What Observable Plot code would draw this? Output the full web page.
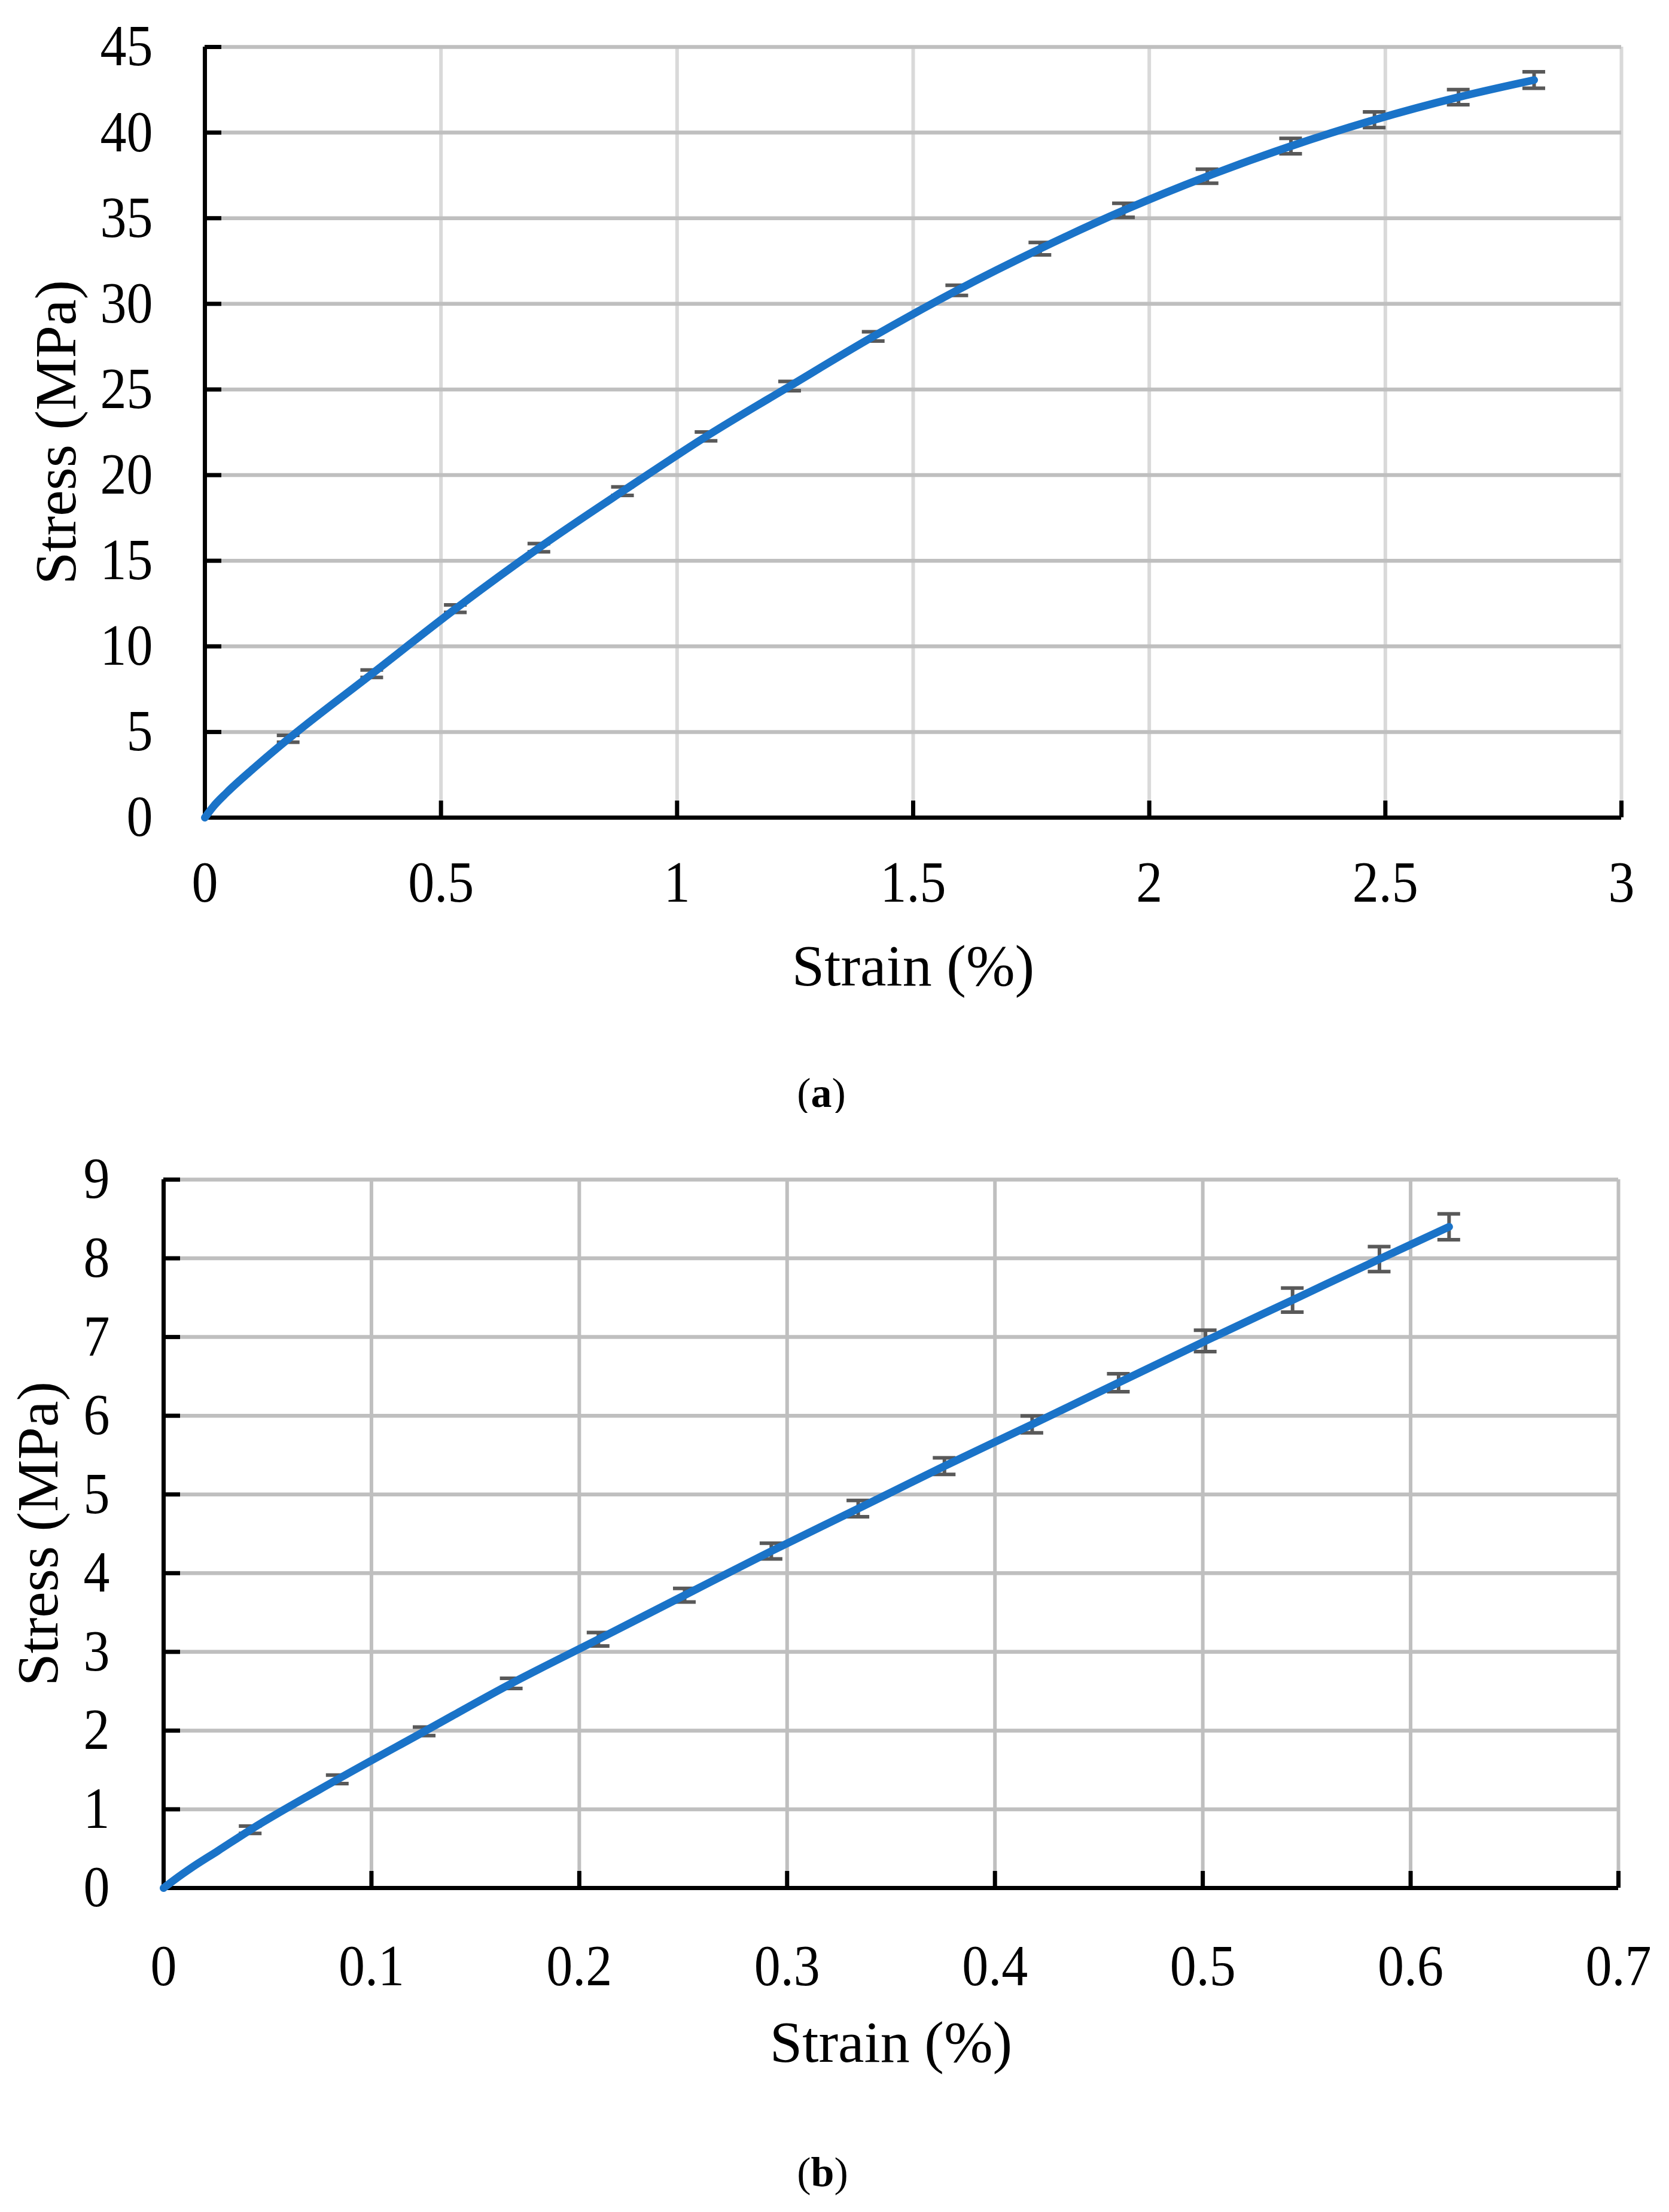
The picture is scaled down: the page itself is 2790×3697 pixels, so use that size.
<!DOCTYPE html>
<html><head><meta charset="utf-8">
<script src="https://cdn.jsdelivr.net/npm/d3@7"></script>
<script src="https://cdn.jsdelivr.net/npm/@observablehq/plot@0.6"></script>
<style>
html,body{margin:0;padding:0;background:#fff;}
#wrap{position:relative;width:2790px;height:3697px;font-family:"Liberation Serif","Times New Roman",serif;color:#000;overflow:hidden;}
.panel{position:absolute;left:0;}
.cap{position:absolute;width:2790px;text-align:center;font-size:70px;line-height:1;}
</style></head><body>
<div id="wrap">
  <div id="pa" class="panel" style="top:0px"></div>
  <div class="cap" style="top:1792px;left:-22px">(<b>a</b>)</div>
  <div id="pb" class="panel" style="top:1860px"></div>
  <div class="cap" style="top:3596px;left:-20px">(<b>b</b>)</div>
</div>
<script>
// ---- Panel (a) data ----
const strainA = [0, 0.017, 0.046, 0.105, 0.177, 0.354, 0.531, 0.708, 0.885, 1.062, 1.239, 1.416, 1.593, 1.769, 1.946, 2.123, 2.300, 2.477, 2.655, 2.815];
const stressA = [0, 0.62, 1.45, 2.92, 4.6, 8.4, 12.2, 15.76, 19.06, 22.26, 25.2, 28.1, 30.79, 33.22, 35.46, 37.45, 39.21, 40.75, 42.07, 43.07];
const barStrainA = [0.177, 0.354, 0.531, 0.708, 0.885, 1.062, 1.239, 1.416, 1.593, 1.769, 1.946, 2.123, 2.300, 2.477, 2.655, 2.815];
const barStressA = [4.6, 8.4, 12.2, 15.76, 19.06, 22.26, 25.2, 28.1, 30.79, 33.22, 35.46, 37.45, 39.21, 40.75, 42.07, 43.07];
const barErrA = [0.2, 0.22, 0.22, 0.24, 0.25, 0.26, 0.27, 0.27, 0.3, 0.36, 0.41, 0.41, 0.45, 0.46, 0.44, 0.48];
const xTicksA = [0, 0.5, 1, 1.5, 2, 2.5, 3];
const yTicksA = [0, 5, 10, 15, 20, 25, 30, 35, 40, 45];

// ---- Panel (b) data ----
const strainB = [0, 0.006, 0.013, 0.026, 0.0418, 0.0837, 0.1255, 0.1674, 0.2092, 0.2507, 0.2924, 0.3342, 0.3757, 0.4179, 0.4595, 0.5013, 0.5432, 0.585, 0.6185];
const stressB = [0, 0.12, 0.25, 0.47, 0.74, 1.38, 1.99, 2.6, 3.16, 3.72, 4.28, 4.82, 5.36, 5.89, 6.42, 6.95, 7.47, 7.99, 8.40];
const barStrainB = [0.0418, 0.0837, 0.1255, 0.1674, 0.2092, 0.2507, 0.2924, 0.3342, 0.3757, 0.4179, 0.4595, 0.5013, 0.5432, 0.585, 0.6185];
const barStressB = [0.74, 1.38, 1.99, 2.6, 3.16, 3.72, 4.28, 4.82, 5.36, 5.89, 6.42, 6.95, 7.47, 7.99, 8.40];
const barErrB = [0.047, 0.054, 0.054, 0.064, 0.085, 0.087, 0.1, 0.104, 0.105, 0.107, 0.114, 0.136, 0.153, 0.158, 0.164];
const xTicksB = [0, 0.1, 0.2, 0.3, 0.4, 0.5, 0.6, 0.7];
const yTicksB = [0, 1, 2, 3, 4, 5, 6, 7, 8, 9];

const xTitle = "Strain (%)";
const yTitle = "Stress (MPa)";

const W = 2790;
function makePanel(o) {
  const line = o.strain.map((x, i) => ({x, y: o.stress[i]}));
  const bars = o.bx.map((x, i) => ({x, y: o.by[i], e: o.be[i]}));
  const plotH = o.height - o.mt - o.mb;
  const plotW = W - o.ml - o.mr;
  const barStyle = {stroke: "#595959", strokeWidth: 6};
  const svg = Plot.plot({
    width: W, height: o.height,
    marginTop: o.mt, marginBottom: o.mb, marginLeft: o.ml, marginRight: o.mr,
    style: {fontFamily: '"Liberation Serif", "Times New Roman", serif', background: "white", color: "black", overflow: "visible"},
    x: {domain: [o.xTicks[0], o.xTicks[o.xTicks.length - 1]]},
    y: {domain: [o.yTicks[0], o.yTicks[o.yTicks.length - 1]]},
    marks: [
      Plot.gridX(o.xTicks, {stroke: o.vGrid, strokeOpacity: 1, strokeWidth: 6}),
      Plot.gridY(o.yTicks, {stroke: "#BFBFBF", strokeOpacity: 1, strokeWidth: 6.5}),
      Plot.axisX(o.xTicks, {tickSize: 0, tickPadding: o.xPad, fontSize: 88, tickFormat: d => String(d), label: null}),
      Plot.axisY(o.yTicks, {tickSize: 0, tickPadding: o.yPad, fontSize: 88, tickFormat: d => String(d), label: null}),
      Plot.tickX(o.xTicks.slice(1), {x: d => d, stroke: "black", strokeWidth: 7, insetTop: plotH - 28}),
      Plot.tickY(o.yTicks.slice(1), {y: d => d, stroke: "black", strokeWidth: 7, insetRight: plotW - 28}),
      Plot.ruleY([o.yTicks[0]], {stroke: "black", strokeWidth: 7}),
      Plot.ruleX([o.xTicks[0]], {stroke: "black", strokeWidth: 7}),
      Plot.ruleX(bars, {x: "x", y1: d => d.y - d.e, y2: d => d.y + d.e, ...barStyle}),
      Plot.ruleY(bars, {y: d => d.y + d.e, x1: "x", x2: "x", insetLeft: -19, insetRight: -19, ...barStyle}),
      Plot.ruleY(bars, {y: d => d.y - d.e, x1: "x", x2: "x", insetLeft: -19, insetRight: -19, ...barStyle}),
      Plot.line(line, {x: "x", y: "y", stroke: "#1a73c8", strokeWidth: 13, curve: "monotone-x", strokeLinecap: "round", strokeLinejoin: "round"}),
      Plot.text([xTitle], {frameAnchor: "bottom", dy: o.xTitleDy, fontSize: 98, lineAnchor: "middle", fill: "black"}),
      Plot.text([yTitle], {frameAnchor: "left", dx: o.yTitleDx, rotate: -90, fontSize: 98, lineAnchor: "middle", textAnchor: "middle", fill: "black"})
    ]
  });
  // slightly taller tick-label glyphs, as in the reference
  svg.querySelectorAll('g[aria-label$="tick label"] text').forEach(t => {
    const tr = t.getAttribute("transform") || "";
    t.setAttribute("transform", tr + " scale(1,1.1)");
  });
  return svg;
}

document.getElementById("pa").appendChild(makePanel({
  strain: strainA, stress: stressA, bx: barStrainA, by: barStressA, be: barErrA,
  xTicks: xTicksA, yTicks: yTicksA, vGrid: "#D9D9D9",
  height: 1740, mt: 78, mb: 374, ml: 342, mr: 80,
  xPad: 72, yPad: 87, xTitleDy: 249, yTitleDx: -248
}));
document.getElementById("pb").appendChild(makePanel({
  strain: strainB, stress: stressB, bx: barStrainB, by: barStressB, be: barErrB,
  xTicks: xTicksB, yTicks: yTicksB, vGrid: "#BFBFBF",
  height: 1620, mt: 111, mb: 325, ml: 273, mr: 85,
  xPad: 94, yPad: 90, xTitleDy: 259, yTitleDx: -209
}));
</script>
</body></html>
